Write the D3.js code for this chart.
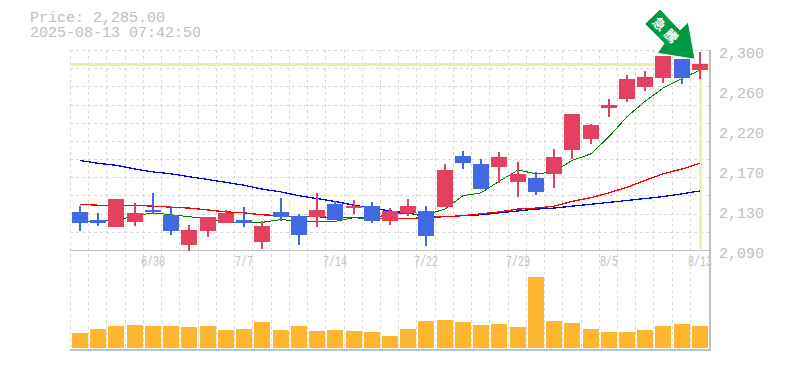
<!DOCTYPE html>
<html>
<head>
<meta charset="utf-8">
<script src="https://cdn.jsdelivr.net/npm/d3@7"></script>
<style>
  body { margin: 0; background: #fff; }
  text { font-family: "Liberation Mono", monospace; fill: #c0c0c0; }
</style>
</head>
<body>
<svg id="grafico" width="785" height="370"></svg>
<script>
const titlePrice = "Price: 2,285.00";
const titleTime = "2025-08-13 07:42:50";
const lastPrice = 2285;

const days = d3.range(35);
const opens = [2130, 2121, 2114, 2119, 2132, 2127, 2095, 2110, 2118, 2121, 2098, 2130, 2126, 2125, 2138, 2134, 2136, 2120, 2129, 2131, 2135, 2189, 2180, 2177, 2161, 2166, 2170, 2195, 2207, 2239, 2249, 2261, 2271, 2291, 2279];
const closes = [2118, 2118, 2144, 2129, 2130, 2110, 2111, 2125, 2129, 2118, 2115, 2125, 2106, 2132, 2121, 2136, 2120, 2131, 2136, 2105, 2174, 2181, 2154, 2188, 2170, 2151, 2188, 2233, 2221, 2242, 2270, 2272, 2294, 2271, 2285];
const highs = [2136, 2129, 2144, 2139, 2150, 2136, 2116, 2125, 2132, 2135, 2120, 2145, 2128, 2150, 2141, 2142, 2140, 2134, 2144, 2136, 2180, 2194, 2186, 2193, 2182, 2172, 2196, 2233, 2222, 2249, 2274, 2278, 2294, 2291, 2298];
const lows = [2110, 2115, 2114, 2115, 2128, 2106, 2089, 2104, 2118, 2114, 2091, 2120, 2095, 2114, 2121, 2128, 2118, 2116, 2126, 2094, 2135, 2175, 2154, 2160, 2146, 2148, 2155, 2186, 2201, 2230, 2245, 2257, 2265, 2264, 2270];
const vols = [150, 190, 220, 230, 220, 220, 210, 220, 180, 190, 260, 180, 220, 170, 180, 170, 160, 120, 190, 270, 280, 260, 230, 240, 210, 710, 270, 250, 190, 160, 160, 180, 220, 240, 220];

const ma5 = [2120, 2120, 2121, 2126, 2129, 2127, 2125, 2123, 2119, 2119, 2119, 2122, 2120, 2120, 2120, 2124, 2122, 2129, 2128, 2127, 2133, 2147, 2150, 2162, 2174, 2170, 2172, 2184, 2191, 2209, 2230, 2246, 2260, 2270, 2279];
const ma13 = [2138, 2137, 2137, 2137, 2136, 2135, 2134, 2132, 2130, 2129, 2127, 2126, 2125, 2125, 2124, 2124, 2123, 2123, 2123, 2124, 2125, 2126, 2128, 2130, 2133, 2134, 2136, 2141, 2145, 2150, 2156, 2163, 2170, 2175, 2181];
const ma25 = [2184, 2181, 2179, 2175, 2172, 2170, 2167, 2164, 2161, 2158, 2154, 2151, 2147, 2144, 2141, 2137, 2134, 2131, 2129, 2125, 2125, 2126, 2127, 2129, 2131, 2133, 2134, 2136, 2138, 2140, 2142, 2144, 2146, 2149, 2152];

const priceTicks = [2300, 2258, 2216, 2174, 2132, 2090];
const dateLabels = { 4: "6/30", 9: "7/7", 14: "7/14", 19: "7/22", 24: "7/29", 29: "8/5", 34: "8/13" };
const arrowLabels = ["急", "騰"];

const UP = "#e4405f", DOWN = "#4169e1";

const svg = d3.select("#grafico");

const x = d3.scaleBand().domain(days).range([70, 708.2]);
const y = d3.scaleLinear().domain([2090, 2300]).range([250, 50]);
const yVol = d3.scaleLinear().domain([0, 1000]).range([348, 248]);
const cx = i => Math.round(x(i)) + 10;

// grid
const grid = svg.append("g").attr("stroke", "#d8d8d8").attr("stroke-dasharray", "3,3").attr("shape-rendering", "crispEdges");
d3.range(11).forEach(k => {
  const gy = Math.round(50 + k * 200 / 11);
  grid.append("line").attr("x1", 70).attr("x2", 710).attr("y1", gy).attr("y2", gy);
});
days.forEach(i => {
  const gx = Math.round(x(i));
  grid.append("line").attr("x1", gx).attr("x2", gx).attr("y1", 50).attr("y2", 350);
});

// last price highlight
const hl = svg.append("g").attr("fill", "#e3f3a8").attr("shape-rendering", "crispEdges");
hl.append("rect").attr("x", 70).attr("width", 640).attr("y", Math.round(y(lastPrice)) - 1).attr("height", 3);
hl.append("rect").attr("x", cx(34) - 1).attr("width", 3).attr("y", y(lastPrice)).attr("height", 249 - y(lastPrice));

// frame
const frame = svg.append("g").attr("stroke", "#c0c0c0").attr("shape-rendering", "crispEdges");
frame.append("line").attr("x1", 70).attr("x2", 711).attr("y1", 250.5).attr("y2", 250.5).attr("stroke-width", 1);
frame.append("line").attr("x1", 70).attr("x2", 711).attr("y1", 350).attr("y2", 350).attr("stroke-width", 2);
frame.append("line").attr("x1", 710).attr("x2", 710).attr("y1", 50).attr("y2", 351).attr("stroke-width", 2);

// moving averages
const line = d3.line().x((d, i) => cx(i)).y(d => y(d));
[[ma25, "#0000ff", 1.3], [ma13, "#ff0000", 1.3], [ma5, "#008000", 1]].forEach(([vals, col, w]) => {
  svg.append("path").datum(vals).attr("d", line).attr("fill", "none").attr("stroke", col).attr("stroke-width", w)
    .attr("shape-rendering", "crispEdges");
});

// candles
const candle = svg.append("g").attr("shape-rendering", "crispEdges");
days.forEach(i => {
  const col = closes[i] >= opens[i] ? UP : DOWN;
  candle.append("rect").attr("x", cx(i) - 1).attr("width", 2)
    .attr("y", y(highs[i])).attr("height", y(lows[i]) - y(highs[i])).attr("fill", col);
  const top = y(Math.max(opens[i], closes[i]));
  const bot = y(Math.min(opens[i], closes[i]));
  candle.append("rect").attr("x", cx(i) - 8).attr("width", 16)
    .attr("y", top).attr("height", bot - top).attr("fill", col);
});

// volume
svg.append("g").selectAll("rect").data(days).join("rect")
  .attr("shape-rendering", "crispEdges")
  .attr("x", i => cx(i) - 8).attr("width", 16)
  .attr("y", i => yVol(vols[i])).attr("height", i => 348 - yVol(vols[i]))
  .attr("fill", "#ffb733");

// axis labels
const yAxis = d3.axisRight(y).tickValues(priceTicks).tickSize(0).tickFormat(d => d3.format(",")(Math.round(d / 10) * 10));
svg.append("g").attr("transform", "translate(716,3)").call(yAxis)
  .call(g => g.select(".domain").remove())
  .selectAll("text").style("font-size", "15px").style("font-family", '"Liberation Mono", monospace').attr("fill", "#c0c0c0");

Object.keys(dateLabels).forEach(i => {
  const s = dateLabels[i];
  svg.append("text").attr("x", cx(+i) - s.length * 3).attr("y", 266)
    .attr("font-size", 14).attr("textLength", s.length * 6).attr("lengthAdjust", "spacingAndGlyphs").text(s);
});

// title
svg.append("text").attr("x", 30).attr("y", 22).attr("font-size", 15).text(titlePrice);
svg.append("text").attr("x", 30).attr("y", 37).attr("font-size", 15).text(titleTime);

// arrow
const arrow = svg.append("g").attr("transform", `translate(${cx(34) - 8},0)`);
arrow.append("path").attr("d", "M-32,9L-47.3,24L-28,43.3L-34.7,53.3L3,59.3L-3.7,22L-12,30Z")
  .attr("fill", "#009944").attr("stroke", "#fff").attr("stroke-width", 1);
arrowLabels.forEach((c, i) => {
  arrow.append("text").attr("transform", `translate(${-33 + i * 12},${24 + i * 12}) rotate(45)`)
    .attr("text-anchor", "middle").attr("dy", "0.35em")
    .style("font-family", '"Noto Sans CJK JP"').style("font-weight", "bold").style("font-size", "13px").style("fill", "#fff").text(c);
});
</script>
</body>
</html>
